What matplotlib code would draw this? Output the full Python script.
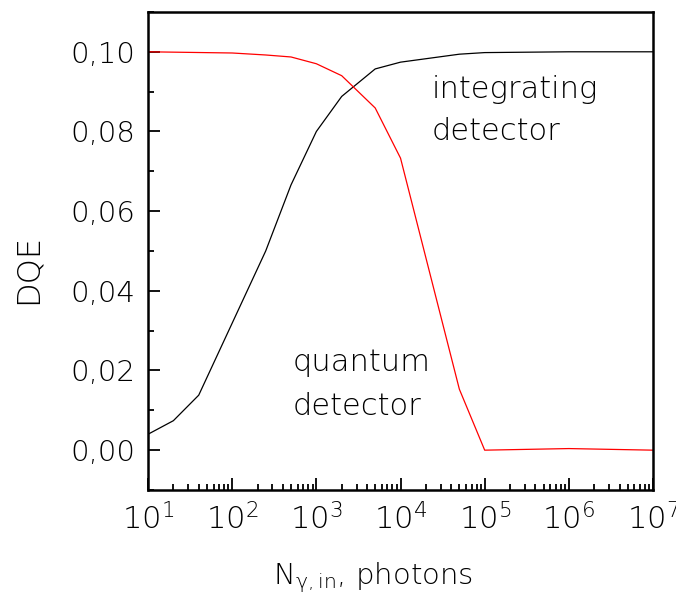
import numpy as np
import matplotlib
matplotlib.use("Agg")
import matplotlib.pyplot as plt
from matplotlib.ticker import FuncFormatter, LogLocator, MultipleLocator, NullFormatter

plt.rcParams["font.family"] = ["DejaVu Sans"]
plt.rcParams["font.weight"] = "light"
plt.rcParams["mathtext.fontset"] = "custom"
plt.rcParams["mathtext.rm"] = "DejaVu Sans:light"
plt.rcParams["mathtext.it"] = "DejaVu Sans:light"
plt.rcParams["mathtext.default"] = "regular"

# photons per pixel
n_integrating = [10, 20, 40, 250, 500, 1000, 2000, 5000, 1e4, 5e4, 1e5, 1e6, 1e7]
dqe_integrating = [0.0040, 0.0074, 0.0138, 0.0500, 0.0666, 0.0800, 0.0888, 0.0957,
                   0.0974, 0.0994, 0.0998, 0.1000, 0.1000]

n_quantum = [10, 100, 250, 500, 1000, 2000, 5000, 1e4, 5e4, 1e5, 1e6, 1e7]
dqe_quantum = [0.1000, 0.0997, 0.0992, 0.0987, 0.0970, 0.0940, 0.0859, 0.0733,
               0.0153, 0.0000, 0.0004, 0.0000]

fig = plt.figure(figsize=(6.76, 5.98), dpi=100)
ax = fig.add_axes([0.219, 0.1806, 0.747, 0.7994])

ax.plot(n_integrating, dqe_integrating, color="black", lw=0.9)
ax.plot(n_quantum, dqe_quantum, color="red", lw=0.9)

ax.set_xscale("log")
ax.set_xlim(10, 1e7)
ax.set_ylim(-0.01, 0.11)

ax.xaxis.set_major_locator(LogLocator(base=10, numticks=10))
ax.xaxis.set_minor_locator(LogLocator(base=10, subs=np.arange(2, 10), numticks=20))
ax.xaxis.set_minor_formatter(NullFormatter())
ax.yaxis.set_major_locator(MultipleLocator(0.02))
ax.yaxis.set_minor_locator(MultipleLocator(0.01))
ax.yaxis.set_major_formatter(FuncFormatter(lambda v, p: f"{v:.2f}".replace(".", ",")))

ax.tick_params(which="both", direction="in", width=1.3, colors="black")
ax.tick_params(axis="y", labelsize=21, pad=9)
ax.tick_params(axis="x", labelsize=22, pad=9)
ax.tick_params(which="major", length=8.3)
ax.tick_params(which="minor", length=4.5)
for s in ax.spines.values():
    s.set_linewidth(1.8)

# axis titles placed where they sit in the original
fig.text(28 / 676, 1 - 269 / 598, "DQE", fontsize=23, rotation=90,
         ha="center", va="center")
fig.text(273 / 676, 1 - 584 / 598, r"N$_{\gamma,\mathrm{in}}$, photons",
         fontsize=21, ha="left", va="baseline")

ax.text(2.36e4, 0.0884, "integrating", fontsize=22, ha="left", va="baseline")
ax.text(2.36e4, 0.0779, "detector", fontsize=22, ha="left", va="baseline")
ax.text(527, 0.0199, "quantum", fontsize=22, ha="left", va="baseline")
ax.text(527, 0.0088, "detector", fontsize=22, ha="left", va="baseline")

fig.savefig("out.png", dpi=100)
